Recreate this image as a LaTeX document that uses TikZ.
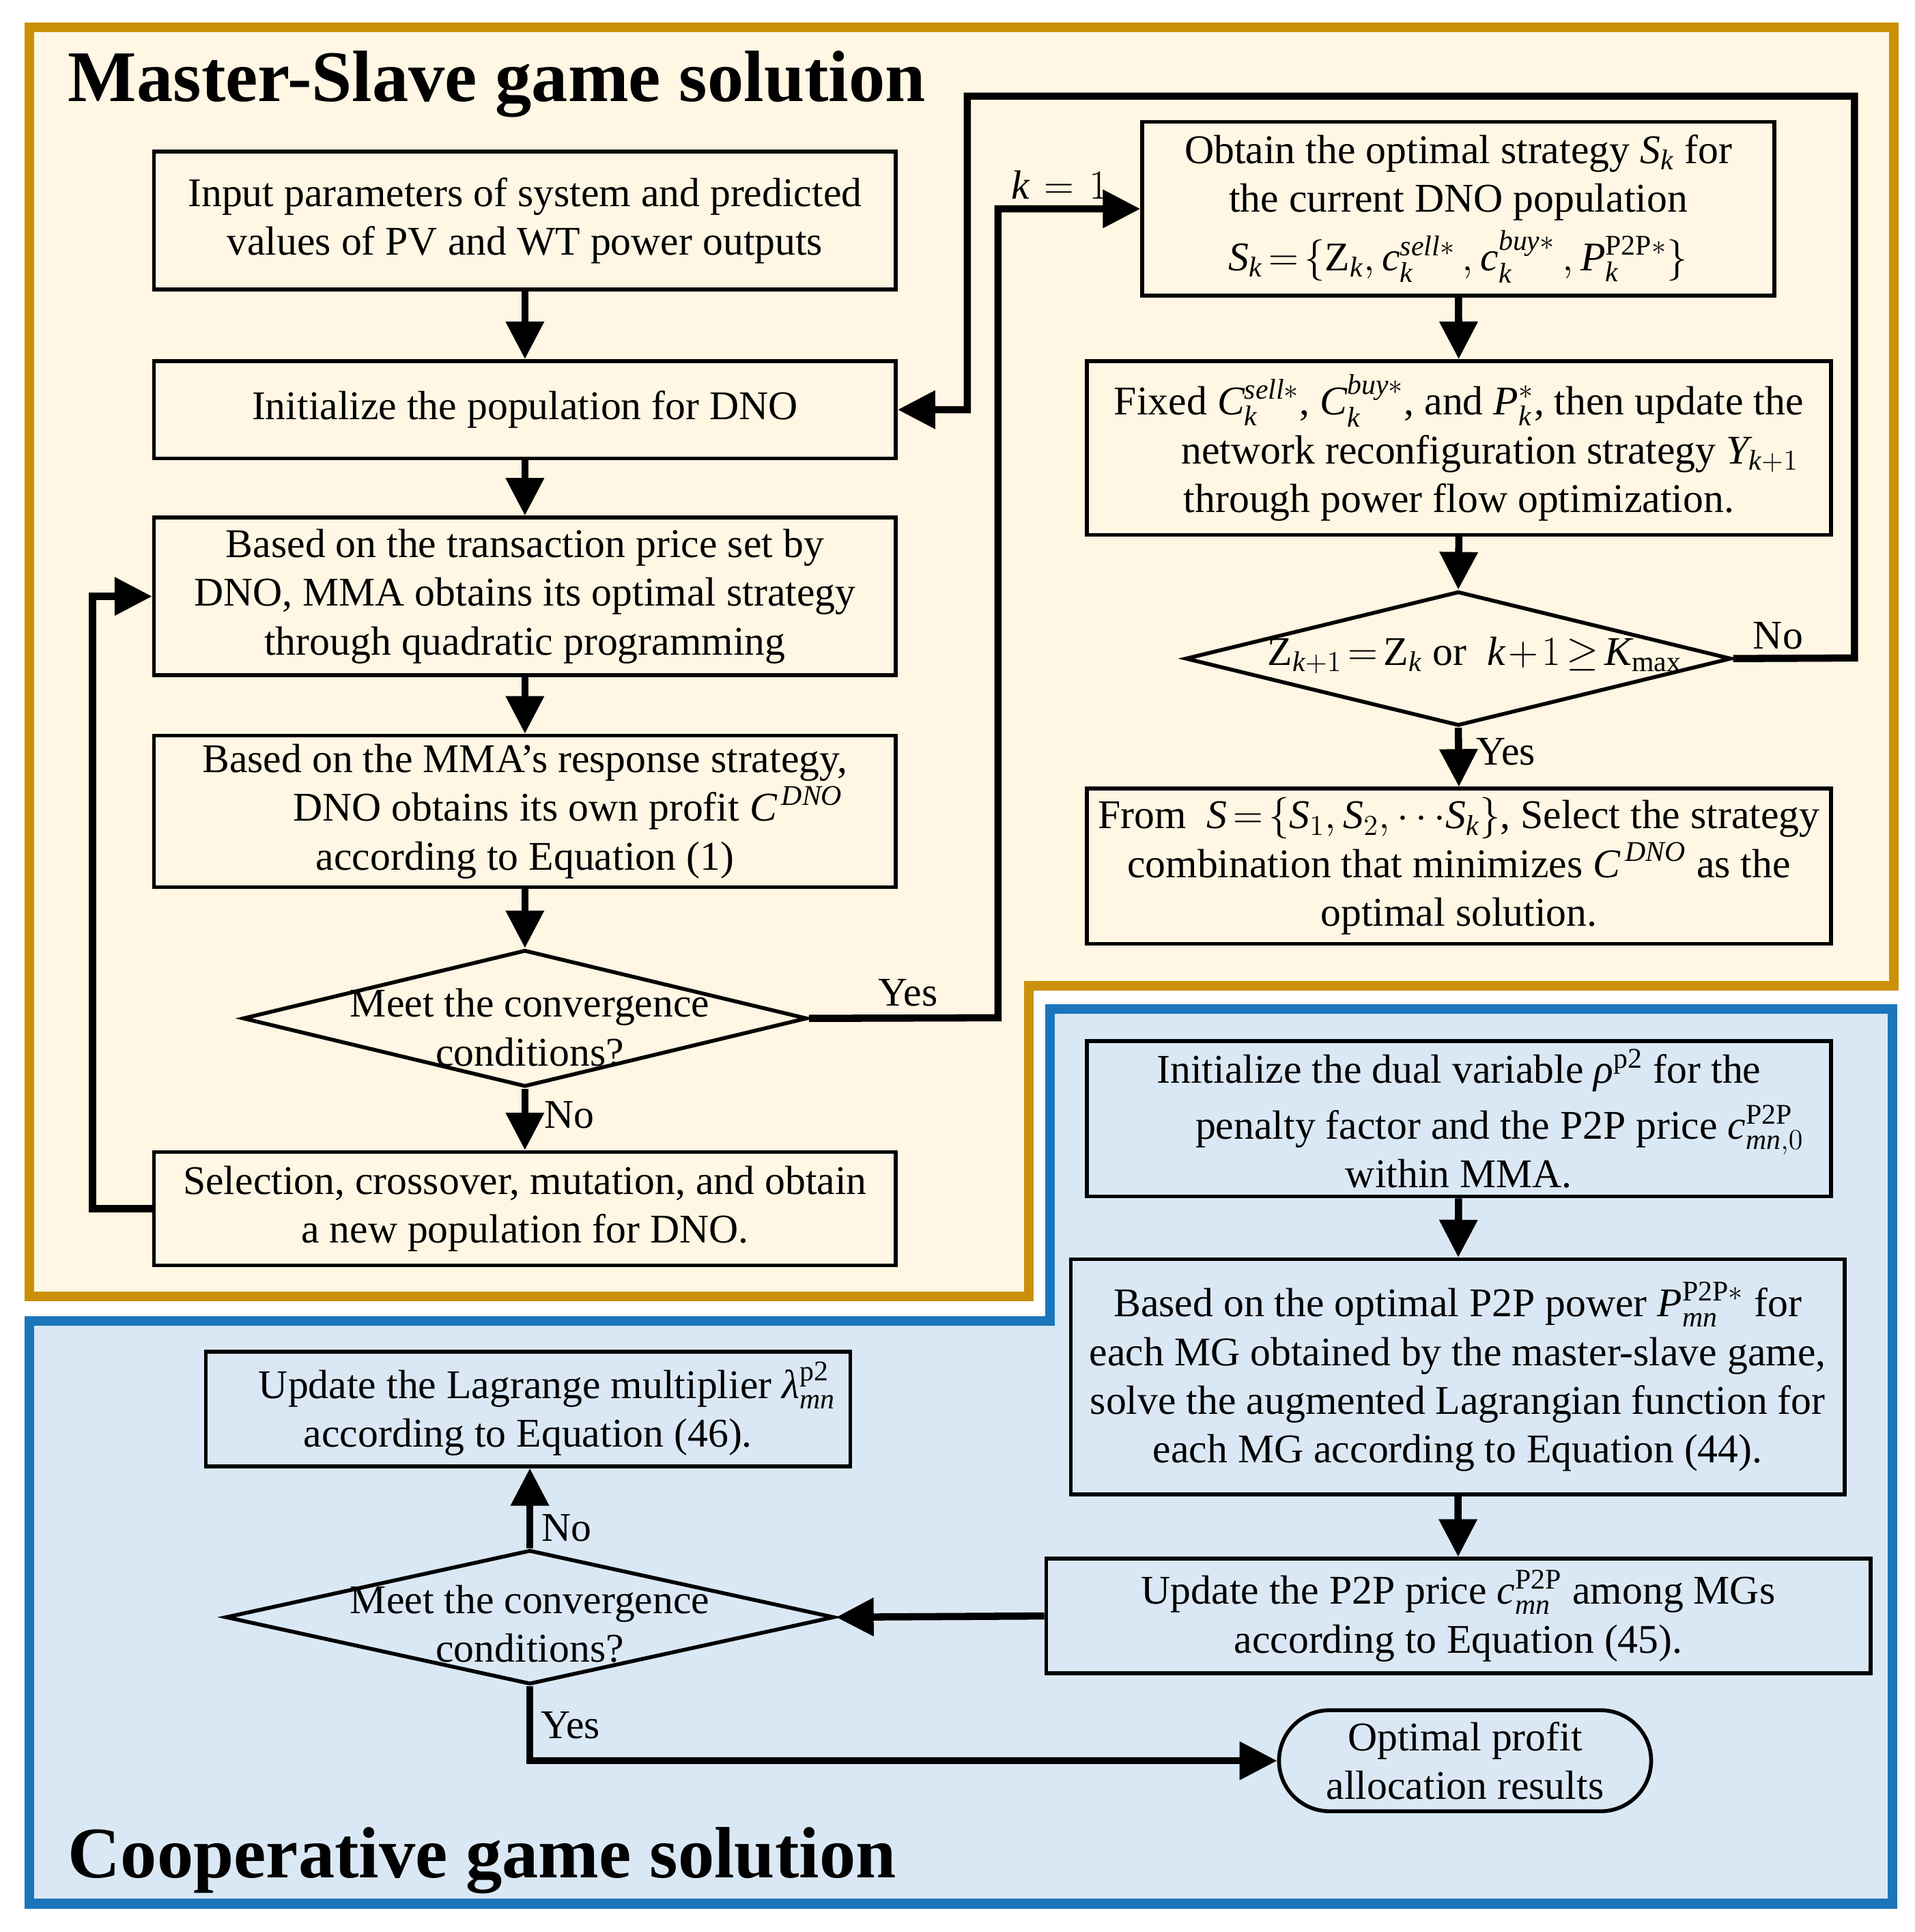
\documentclass[tikz,border=0pt]{standalone}
\usepackage{amsmath}
\usepackage{fontspec}
\setmainfont{Liberation Serif}
\usetikzlibrary{arrows.meta,shapes.geometric,shapes.misc}
\definecolor{orfill}{HTML}{FFF7E3}
\definecolor{orline}{HTML}{CA9008}
\definecolor{blfill}{HTML}{DAE8F5}
\definecolor{blline}{HTML}{1B75BB}
\newcommand\mi[1]{\textit{#1}}
\newcommand\bx[6]{\node[box, minimum width={(#4-#2)*0.01805cm}, minimum height={(#5-#3)*0.01805cm}] (#1) at ({(#2+#4)/2},{(#3+#5)/2}) {#6};}
\newcommand\dm[6]{\node[dia, minimum width={(#4-#2)*0.01805cm}, minimum height={(#5-#3)*0.01805cm}] (#1) at ({(#2+#4)/2},{(#3+#5)/2}) {};}
\begin{document}
\medmuskip=1.5mu\relax
\thickmuskip=2.5mu\relax
\begin{tikzpicture}[x=0.01805cm,y=-0.01805cm,
  font=\fontsize{17}{20.3}\selectfont,
  box/.style={draw, line width=1.6pt, rectangle, inner sep=0pt, align=center},
  dia/.style={draw, line width=1.6pt, diamond, inner sep=0pt},
  conn/.style={line width=3pt, -{Triangle[length=0.55cm,width=0.54cm]}},
  lbl/.style={inner sep=0pt},
  ttl/.style={inner sep=0pt, anchor=base west, font=\fontsize{30.3}{36}\selectfont\bfseries}]
\useasboundingbox (0,0) rectangle (1554,1568);
\fill[white] (0,0) rectangle (1554,1568);
% regions
\draw[line width=4pt, orline, fill=orfill] (24,22) -- (1537,22) -- (1537,800) -- (835,800) -- (835,1052) -- (24,1052) -- cycle;
\draw[line width=4pt, blline, fill=blfill] (852,819) -- (1536,819) -- (1536,1545) -- (24,1545) -- (24,1072) -- (852,1072) -- cycle;
\node[ttl] (t1) at (55,82) {Master-Slave game solution};
\node[ttl] (t2) at (55,1524) {Cooperative game solution};
% left column
\bx{b1}{125}{123}{727}{235}{Input parameters of system and predicted\\values of PV and WT power outputs}
\bx{b2}{125}{293}{727}{372}{Initialize the population for DNO}
\bx{b3}{125}{420}{727}{548}{Based on the transaction price set by\\DNO, MMA obtains its optimal strategy\\through quadratic programming}
\bx{b4}{125}{597}{727}{720}{Based on the MMA's response strategy,\\\hspace*{36pt}DNO obtains its own profit $\mi{C}^{\,\mi{DNO}}$\\according to Equation (1)}
\dm{d1}{197}{771}{655}{882}{}
\node[lbl, align=center] (d1t) at (430,834) {Meet the convergence\\conditions?};
\bx{b6}{125}{935}{727}{1027}{Selection, crossover, mutation, and obtain\\a new population for DNO.}
% right column
\bx{b7}{927}{99}{1440}{240}{Obtain the optimal strategy $\mi{S}_{\mi{k}}$ for\\the current DNO population\\[3pt]$\mi{S}_{\mi{k}}=\{\textup{Z}_{\mi{k}},\mi{c}_{\mi{k}}^{\mi{sell}*}\,,\mi{c}_{\mi{k}}^{\mi{buy}*}\,,\mi{P}_{\mi{k}}^{\textup{P2P}*}\}$}
\bx{b8}{882}{293}{1486}{434}{Fixed $\mi{C}_{\mi{k}}^{\mi{sell}*}$, $\mi{C}_{\mi{k}}^{\mi{buy}*}$, and $\mi{P}_{\mi{k}}^{*}$, then update the\\\hspace*{26pt}network reconfiguration strategy $\mi{Y}_{\mi{k}+1}$\\through power flow optimization.}
\dm{d2}{962}{480}{1405}{589}{}
\node[lbl] (d2t) at (1197,532) {$\textup{Z}_{\mi{k}+1}=\textup{Z}_{\mi{k}}$ or \ $\mi{k}+1\geq\mi{K}_{\textup{max}}$};
\bx{b10}{882}{640}{1486}{766}{From \ $\mi{S}=\{\mi{S}_1,\mi{S}_2,{\cdots}\mi{S}_{\mi{k}}\}$, Select the strategy\\combination that minimizes $\mi{C}^{\,\mi{DNO}}$ as the\\optimal solution.}
% blue region
\bx{b11}{882}{845}{1486}{971}{Initialize the dual variable $\mi{ρ}^{\textup{p2}}$ for the\\[3pt]\hspace*{34pt}penalty factor and the P2P price $\mi{c}_{\mi{mn},0}^{\textup{P2P}}$\\within MMA.}
\bx{b12}{869}{1022}{1497}{1213}{Based on the optimal P2P power $\mi{P}_{\mi{mn}}^{\textup{P2P}*}$ for\\each MG obtained by the master-slave game,\\solve the augmented Lagrangian function for\\each MG according to Equation (44).}
\bx{b13}{849}{1265}{1518}{1358}{Update the P2P price $\mi{c}_{\mi{mn}}^{\textup{P2P}}$ among MGs\\according to Equation (45).}
\dm{d3}{183}{1258}{677}{1367}{}
\node[lbl, align=center] (d3t) at (430,1318) {Meet the convergence\\conditions?};
\bx{b15}{167}{1097}{690}{1190}{\hspace*{16pt}Update the Lagrange multiplier $\mi{λ}_{\mi{mn}}^{\textup{p2}}$\\according to Equation (46).}
\node[draw, line width=1.6pt, rounded rectangle, inner sep=0pt, align=center, minimum width={302*0.01805cm}, minimum height={82*0.01805cm}] (s1) at (1189,1429) {Optimal profit\\allocation results};
% connectors
\draw[conn] (b1) -- (b2);
\draw[conn] (b2) -- (b3);
\draw[conn] (b3) -- (b4);
\draw[conn] (b4.south) -- (b4.south |- d1.north);
\draw[conn] (d1.south) -- (b6.north -| d1.south);
\coordinate (c1) at (75,981);
\draw[conn] (b6.west) -- (c1) |- (b3.west);
\coordinate (c2) at (810,826);
\draw[conn] (d1.east) -- (c2) |- (b7.west);
\draw[conn] (b7) -- (b8);
\draw[conn] (b8.south) -- (d2.north);
\draw[conn] (d2.south) -- (b10.north);
\coordinate (c3) at (1505,534);
\coordinate (c4) at (1505,78);
\coordinate (c5) at (785,78);
\draw[conn] (d2.east) -- (c3) -- (c4) -- (c5) |- (b2.east);
\draw[conn] (b11) -- (b12);
\draw[conn] (b12) -- (b13);
\draw[conn] (b13.west) -- (d3.east);
\draw[conn] (d3.north) -- (d3.north |- b15.south);
\draw[conn] (d3.south) |- (s1.west);
% labels
\node[lbl] (l1) at (737,806) {Yes};
\node[lbl] (l2) at (462,905) {No};
\node[lbl] (l3) at (860,150) {$\mi{k}\mskip4mu=\mskip4mu1$};
\node[lbl] (l4) at (1443,516) {No};
\node[lbl] (l5) at (1222,610) {Yes};
\node[lbl] (l6) at (460,1240) {No};
\node[lbl] (l7) at (463,1400) {Yes};
\end{tikzpicture}
\end{document}
